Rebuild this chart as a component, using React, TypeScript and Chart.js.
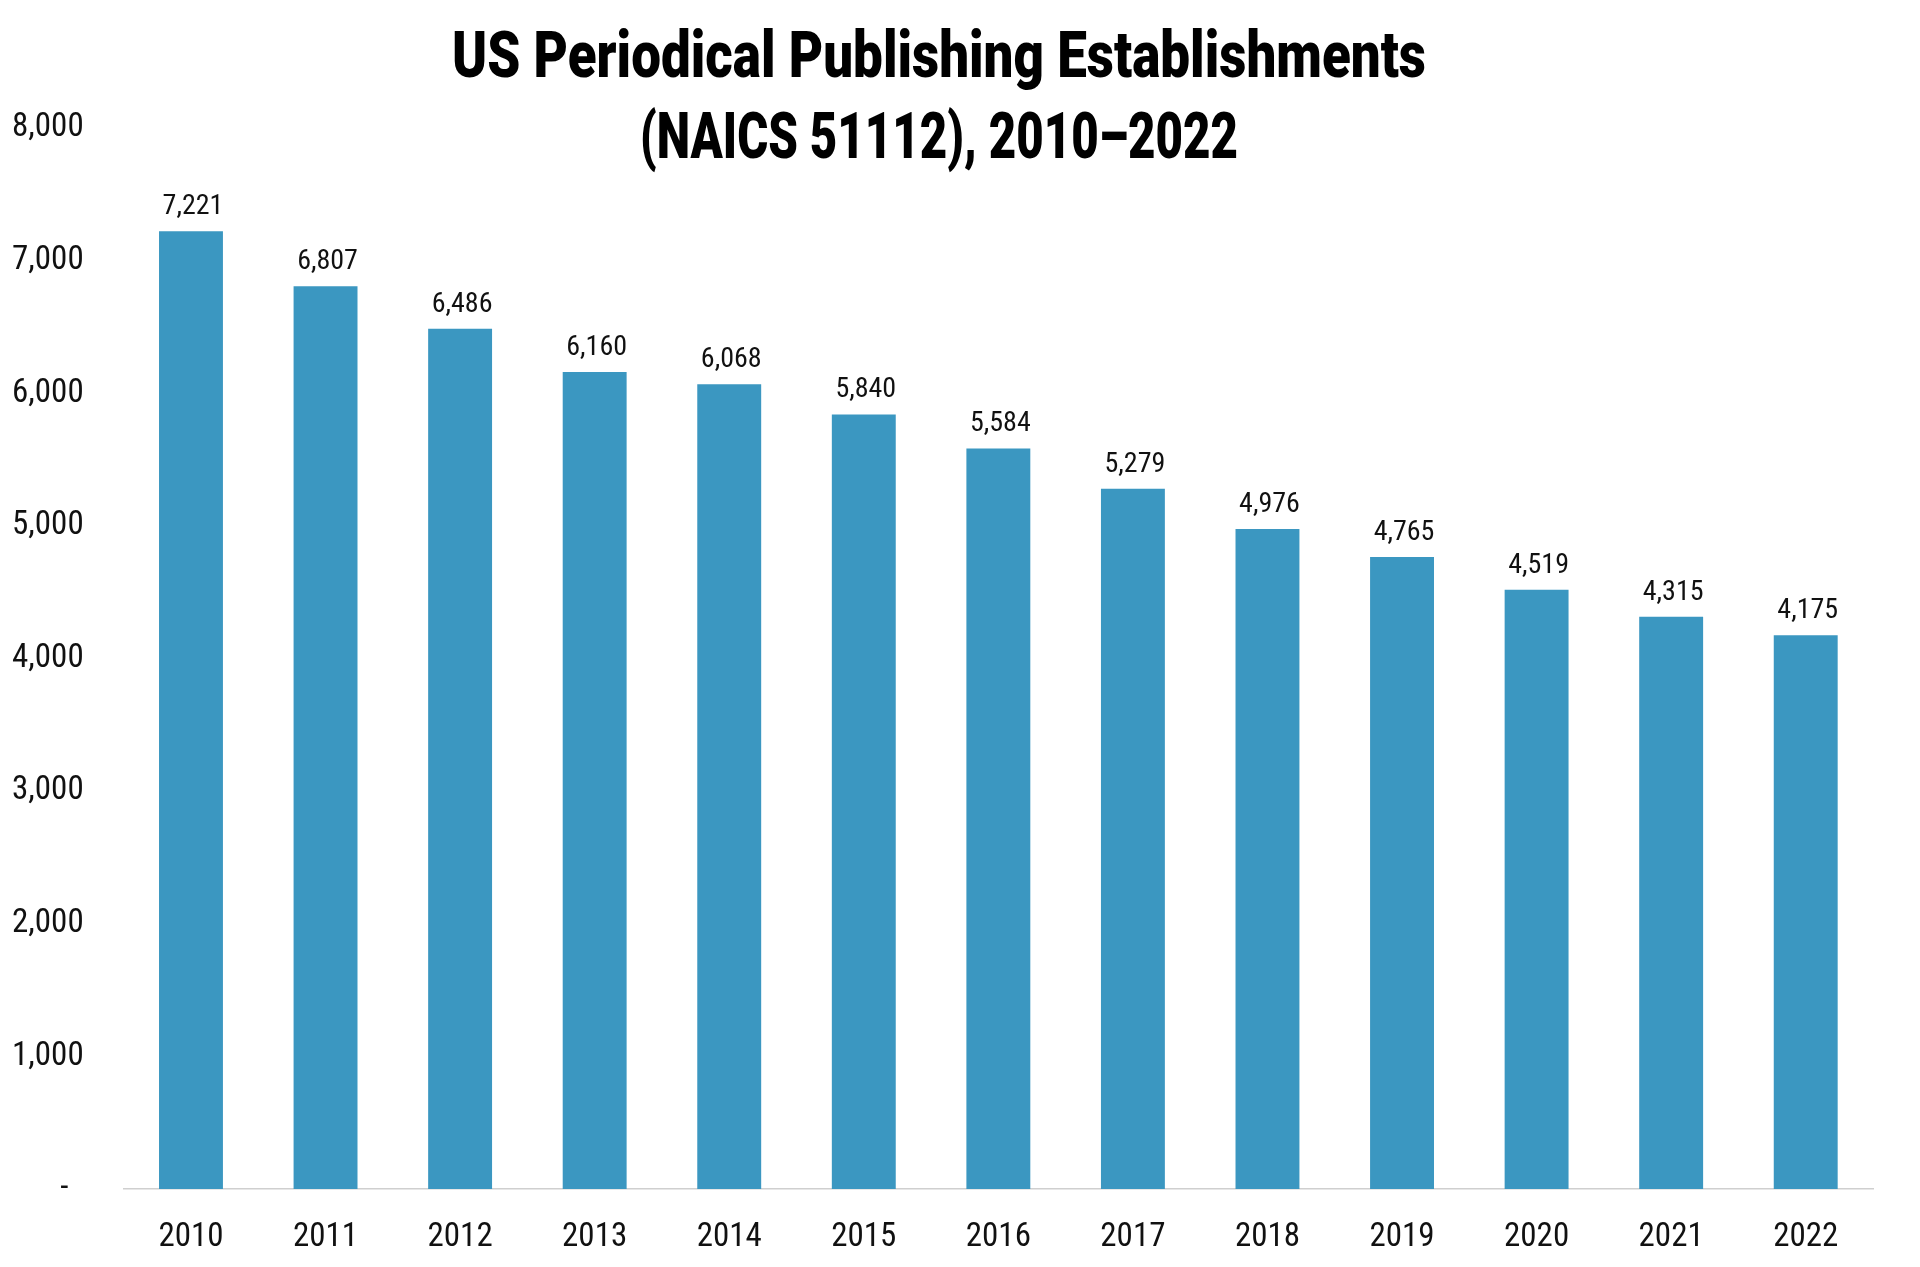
import React, { useEffect, useRef } from 'react';
import { Chart, registerables } from 'chart.js';

Chart.register(...registerables);

const TITLE_LINES = ['US Periodical Publishing Establishments', '(NAICS 51112), 2010–2022'];
const YEARS = ['2010', '2011', '2012', '2013', '2014', '2015', '2016', '2017', '2018', '2019', '2020', '2021', '2022'];
const ESTABLISHMENTS = [7221, 6807, 6486, 6160, 6068, 5840, 5584, 5279, 4976, 4765, 4519, 4315, 4175];
const Y_TICKS = [0, 1000, 2000, 3000, 4000, 5000, 6000, 7000, 8000];
const Y_TICK_LABELS = ['-  ', '1,000', '2,000', '3,000', '4,000', '5,000', '6,000', '7,000', '8,000'];

const FONT = "'Liberation Sans Narrow', 'Roboto Condensed', 'DejaVu Sans Condensed', 'Arial Narrow', Roboto, sans-serif";
const TITLE_FONT = "Roboto, Inter, 'DejaVu Sans', sans-serif";
const BAR_COLOR = '#3b97c1';

const titlePlugin = {
  id: 'condensedTitle',
  afterDraw(chart: any) {
    const ctx = chart.ctx as CanvasRenderingContext2D;
    ctx.save();
    ctx.fillStyle = '#000';
    ctx.textAlign = 'center';
    ctx.textBaseline = 'alphabetic';
    ctx.font = `900 64px ${TITLE_FONT}`;
    const cx = 939;
    const baselines = [77, 158];
    const targetWidths = [974, 598];
    TITLE_LINES.forEach((line, i) => {
      const sx = targetWidths[i] / ctx.measureText(line).width;
      ctx.save();
      ctx.translate(cx, baselines[i]);
      ctx.scale(sx, 1);
      ctx.fillText(line, 0, 0);
      ctx.restore();
    });
    ctx.restore();
  },
};

const valueLabelPlugin = {
  id: 'valueLabels',
  afterDatasetsDraw(chart: any) {
    const ctx = chart.ctx as CanvasRenderingContext2D;
    const meta = chart.getDatasetMeta(0);
    const data = chart.data.datasets[0].data as number[];
    ctx.save();
    ctx.font = `28px ${FONT}`;
    ctx.fillStyle = '#111';
    ctx.textAlign = 'center';
    ctx.textBaseline = 'alphabetic';
    meta.data.forEach((bar: any, i: number) => {
      ctx.fillText(data[i].toLocaleString('en-US'), bar.x + 2, bar.y - 17);
    });
    ctx.restore();
  },
};

export default function App() {
  const ref = useRef<HTMLCanvasElement | null>(null);

  useEffect(() => {
    if (!ref.current) return;
    const chart = new Chart(ref.current, {
      type: 'bar',
      data: {
        labels: YEARS,
        datasets: [
          {
            data: ESTABLISHMENTS,
            backgroundColor: BAR_COLOR,
            borderWidth: 0,
            barPercentage: 0.475,
            categoryPercentage: 1,
          },
        ],
      },
      options: {
        animation: false,
        responsive: false,
        devicePixelRatio: 1,
        layout: { padding: { top: 128, right: 47, bottom: 0, left: 0 } },
        plugins: {
          legend: { display: false },
          tooltip: { enabled: false },
          title: { display: false },
        },
        scales: {
          x: {
            grid: { display: false, drawTicks: false },
            border: { display: true, color: '#cfcfcf', width: 1.5 },
            ticks: {
              font: { family: FONT, size: 33 },
              color: '#111',
              padding: 29,
              maxRotation: 0,
              autoSkip: false,
            },
            afterFit: (s: any) => {
              s.height = 78;
            },
          },
          y: {
            min: 0,
            max: 8000,
            grid: { display: false, drawTicks: false },
            border: { display: false },
            ticks: {
              stepSize: 1000,
              padding: 40,
              font: { family: FONT, size: 33 },
              color: '#111',
              callback: (v: any) => {
                const idx = Y_TICKS.indexOf(Number(v));
                return idx >= 0 ? Y_TICK_LABELS[idx] : '';
              },
            },
            afterFit: (s: any) => {
              s.width = 123.7;
            },
          },
        },
      },
      plugins: [valueLabelPlugin, titlePlugin],
    });
    return () => chart.destroy();
  }, []);

  return (
    <div style={{ position: 'absolute', left: 0, top: 0, width: 1920, height: 1267, background: '#fff' }}>
      <canvas ref={ref} width={1920} height={1267} style={{ display: 'block', width: 1920, height: 1267 }} />
    </div>
  );
}
